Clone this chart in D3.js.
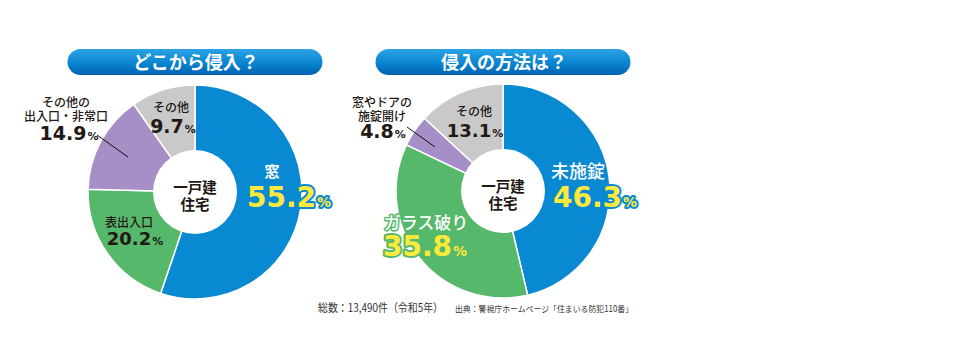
<!DOCTYPE html>
<html><head><meta charset="utf-8">
<script src="https://cdn.jsdelivr.net/npm/d3@7/dist/d3.min.js"></script>
<style>
html,body{margin:0;padding:0;background:#fff;}
svg{display:block;}
</style></head>
<body>
<svg id="chart" width="971" height="358"></svg>
<script>
// ---- data ----
const leftTitle = "どこから侵入？";
const leftCategories = ["窓", "表出入口", "その他の出入口・非常口", "その他"];
const leftValues = [55.2, 20.2, 14.9, 9.7];
const rightTitle = "侵入の方法は？";
const rightCategories = ["未施錠", "ガラス破り", "窓やドアの施錠開け", "その他"];
const rightValues = [46.3, 35.8, 4.8, 13.1];
const centerLabel = ["一戸建", "住宅"];
const totalNote = "総数：13,490件（令和5年）";
const sourceNote = "出典：警視庁ホームページ「住まいる防犯110番」";

const sliceColors = ["#0a89d3", "#56b86a", "#a58fc6", "#c9c9c9"];
const JP = "'Noto Sans CJK JP','Noto Sans',sans-serif";
const NUM = "'DejaVu Sans','Liberation Sans',sans-serif";
const DARK = "#231815", YEL = "#fbe93b";

const svg = d3.select("#chart");
const defs = svg.append("defs");
const g = defs.append("linearGradient").attr("id","pill").attr("x1",0).attr("y1",0).attr("x2",0).attr("y2",1);
g.append("stop").attr("offset","0%").attr("stop-color","#2ba3e6");
g.append("stop").attr("offset","55%").attr("stop-color","#0a84d0");
g.append("stop").attr("offset","100%").attr("stop-color","#0062b0");

function drawDonut(cfg){
  const root = svg.append("g");
  root.append("rect").attr("x", cfg.cx - 127.5).attr("y", 49).attr("width", 255).attr("height", 26)
    .attr("rx", 13).attr("fill", "url(#pill)");
  root.append("text").attr("x", cfg.cx + 1).attr("y", 69).attr("text-anchor","middle")
    .attr("font-family", JP).attr("font-weight", 700).attr("font-size", 18).attr("fill","#fff")
    .text(cfg.title);

  const pie = d3.pie().sort(null).value(d => d)(cfg.values);
  const arc = d3.arc().innerRadius(0).outerRadius(cfg.r);
  const pg = root.append("g").attr("transform", `translate(${cfg.cx},${cfg.cy})`);
  pg.selectAll("path").data(pie).join("path")
    .attr("d", arc).attr("fill", (d,i) => sliceColors[i])
    .attr("stroke", "#fff").attr("stroke-width", 1.5);
  pg.append("circle").attr("r", cfg.inner).attr("fill", "#fff");
  const ct = pg.append("text").attr("text-anchor","middle")
    .attr("font-family", JP).attr("font-weight", 700).attr("font-size", 14.5).attr("fill", DARK);
  ct.selectAll("tspan").data(centerLabel).join("tspan")
    .attr("x", 0).attr("y", (d,i) => 0.5 + i*17.5).text(d => d);
}

function pctLabel(x, y, value, size, color, pSize, outline){
  const t = svg.append("text").attr("x", x).attr("y", y).attr("text-anchor","middle")
    .attr("font-family", NUM).attr("font-weight", 700).attr("fill", color);
  if (outline) t.attr("stroke", outline).attr("stroke-width", 4).attr("stroke-linejoin","round")
    .attr("paint-order", "stroke");
  t.append("tspan").attr("font-size", size).text(value.toFixed(1));
  t.append("tspan").attr("font-size", pSize).attr("dx", 1).text("%");
}
function catLabel(x, y, lines, size, color, weight, outline){
  const t = svg.append("text").attr("text-anchor","middle")
    .attr("font-family", JP).attr("font-weight", weight || 700).attr("font-size", size).attr("fill", color)
    .attr("stroke", outline || null).attr("stroke-width", outline ? 3 : null)
    .attr("stroke-linejoin", "round").attr("paint-order", "stroke");
  t.selectAll("tspan").data(lines).join("tspan")
    .attr("x", x).attr("y", (d,i) => y + i*14).text(d => d);
}

const L = {cx:195, cy:192, r:107, inner:42, title:leftTitle, values:leftValues};
const R = {cx:503, cy:191, r:107, inner:42, title:rightTitle, values:rightValues};
drawDonut(L);
drawDonut(R);

// left labels
catLabel(L.cx + 77, 177, [leftCategories[0]], 15, "#fff", 700);
pctLabel(L.cx + 94, 207, leftValues[0], 28, YEL, 14, sliceColors[0]);
catLabel(L.cx - 66, 227, [leftCategories[1]], 12, DARK, 500);
pctLabel(L.cx - 60, 245, leftValues[1], 18, DARK, 11);
catLabel(L.cx - 129, 107, ["その他の", "出入口・非常口"], 12, DARK, 500);
pctLabel(L.cx - 126, 140, leftValues[2], 19, DARK, 11);
catLabel(L.cx - 24, 112, [leftCategories[3]], 12, DARK, 500);
pctLabel(L.cx - 22, 133, leftValues[3], 19, DARK, 11);
svg.append("line").attr("x1", 97).attr("y1", 135).attr("x2", 128).attr("y2", 157)
  .attr("stroke", "#111").attr("stroke-width", 1);

// right labels
catLabel(R.cx + 75, 178, [rightCategories[0]], 18, "#fff", 500, sliceColors[0]);
pctLabel(R.cx + 92, 207, rightValues[0], 28, YEL, 14, sliceColors[0]);
catLabel(R.cx - 77, 229, [rightCategories[1]], 17, "#fff", 500, sliceColors[1]);
pctLabel(R.cx - 78, 256, rightValues[1], 28, YEL, 14, sliceColors[1]);
catLabel(R.cx - 121, 107, ["窓やドアの", "施錠開け"], 12, DARK, 500);
pctLabel(R.cx - 120, 138, rightValues[2], 19, DARK, 11);
catLabel(R.cx - 29, 116, [rightCategories[3]], 12, DARK, 500);
pctLabel(R.cx - 28, 137, rightValues[3], 18, DARK, 11);
svg.append("line").attr("x1", 407).attr("y1", 127).attr("x2", 435).attr("y2", 147)
  .attr("stroke", "#111").attr("stroke-width", 1);

// footer
svg.append("text").attr("x", 318).attr("y", 312).attr("font-family", JP).attr("font-size", 11.5)
  .attr("fill", "#333").attr("textLength", 125).attr("lengthAdjust", "spacingAndGlyphs").text(totalNote);
svg.append("text").attr("x", 455).attr("y", 311.5).attr("font-family", JP).attr("font-size", 8.5)
  .attr("fill", "#333").attr("textLength", 178).attr("lengthAdjust", "spacingAndGlyphs").text(sourceNote);
</script>
</body></html>
